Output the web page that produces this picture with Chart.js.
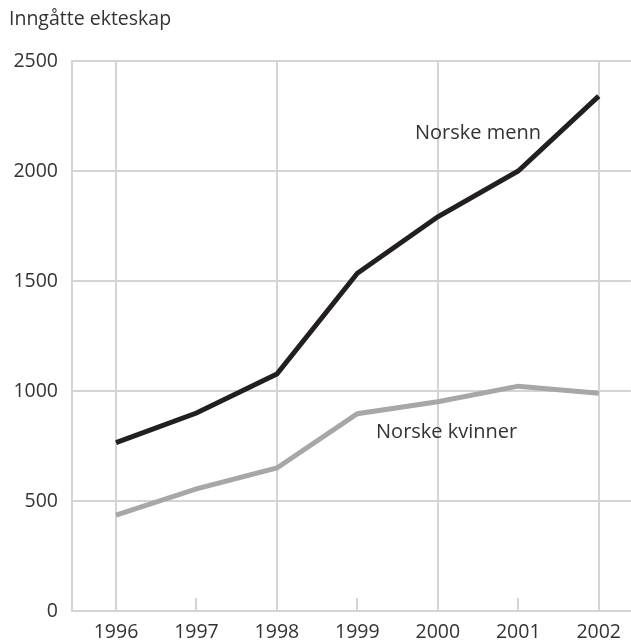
<!DOCTYPE html>
<html>
<head>
<meta charset="utf-8">
<script src="https://cdn.jsdelivr.net/npm/chart.js@4/dist/chart.umd.min.js"></script>
<style>
  html, body { margin: 0; padding: 0; background: #fff; }
  #wrap { position: relative; width: 631px; height: 644px; }
</style>
</head>
<body>
<div id="wrap"><canvas id="chart"></canvas></div>
<script>
/* ── DATA ── */
const years       = [1996, 1997, 1998, 1999, 2000, 2001, 2002];
const norskeMenn  = [765, 900, 1077, 1535, 1792, 2000, 2340];
const norskeKvinn = [436, 555, 650, 897, 951, 1022, 990];
const yTicks      = [0, 500, 1000, 1500, 2000, 2500];
const yTitle      = 'Inngåtte ekteskap';
const seriesNames = ['Norske menn', 'Norske kvinner'];

/* ── STYLE ── */
const FONT  = '"Open Sans", "Noto Sans", sans-serif';
const TEXT  = '#333333';
const GRID  = '#d4d4d4';

/* label anchors, in data units */
const labelAt = [
  { x: 2000.5,  y: 2173 },
  { x: 2000.11, y: 814 }
];

/* title + inline series labels + x grid (full on even years, short tick on odd) */
const decor = {
  id: 'decor',
  beforeDatasetsDraw(chart) {
    const { ctx, scales: { x }, chartArea } = chart;
    ctx.save();
    ctx.strokeStyle = GRID;
    ctx.lineWidth = 2;
    years.forEach(yr => {
      const px = Math.round(x.getPixelForValue(yr));
      const top = yr % 2 === 0 ? chartArea.top : chartArea.bottom - 13;
      ctx.beginPath();
      ctx.moveTo(px, chartArea.bottom);
      ctx.lineTo(px, top);
      ctx.stroke();
    });
    ctx.restore();
  },
  afterDraw(chart) {
    const { ctx, scales: { x, y } } = chart;
    ctx.save();
    ctx.fillStyle = TEXT;
    ctx.font = '19.5px ' + FONT;
    ctx.textAlign = 'left';
    ctx.textBaseline = 'middle';
    ctx.fillText(yTitle, 9, 19);

    ctx.font = '20px ' + FONT;
    ctx.textAlign = 'center';
    seriesNames.forEach((name, i) => {
      ctx.fillText(name, x.getPixelForValue(labelAt[i].x), y.getPixelForValue(labelAt[i].y));
    });
    ctx.restore();
  }
};

new Chart(document.getElementById('chart').getContext('2d'), {
  type: 'line',
  data: {
    datasets: [
      {
        label: seriesNames[0],
        data: years.map((yr, i) => ({ x: yr, y: norskeMenn[i] })),
        borderColor: '#231f20',
        borderWidth: 5,
        pointRadius: 0,
        tension: 0,
        borderCapStyle: 'butt'
      },
      {
        label: seriesNames[1],
        data: years.map((yr, i) => ({ x: yr, y: norskeKvinn[i] })),
        borderColor: '#a7a7a9',
        borderWidth: 5,
        pointRadius: 0,
        tension: 0,
        borderCapStyle: 'butt'
      }
    ]
  },
  options: {
    responsive: true,
    maintainAspectRatio: false,
    animation: false,
    layout: { padding: { top: 61, left: 0, right: 0, bottom: 0 } },
    plugins: {
      legend:  { display: false },
      tooltip: { enabled: false }
    },
    scales: {
      x: {
        type: 'linear',
        min: 1995.453,
        max: 2002.4,
        afterBuildTicks: s => { s.ticks = years.map(v => ({ value: v })); },
        afterFit: s => { s.height = 33; },
        grid: { display: false, drawTicks: false },
        border: { display: true, color: GRID, width: 2 },
        ticks: {
          padding: 10,
          color: TEXT,
          font: { family: FONT, size: 19.5 },
          callback: v => String(v)
        }
      },
      y: {
        min: 0,
        max: 2500,
        afterBuildTicks: s => { s.ticks = yTicks.map(v => ({ value: v })); },
        afterFit: s => { s.width = 72; },
        grid: { drawTicks: false, lineWidth: 2, color: GRID },
        border: { display: true, color: GRID, width: 2 },
        ticks: {
          padding: 14,
          color: TEXT,
          font: { family: FONT, size: 19.5 },
          callback: v => String(v)
        }
      }
    }
  },
  plugins: [decor]
});
</script>
</body>
</html>
